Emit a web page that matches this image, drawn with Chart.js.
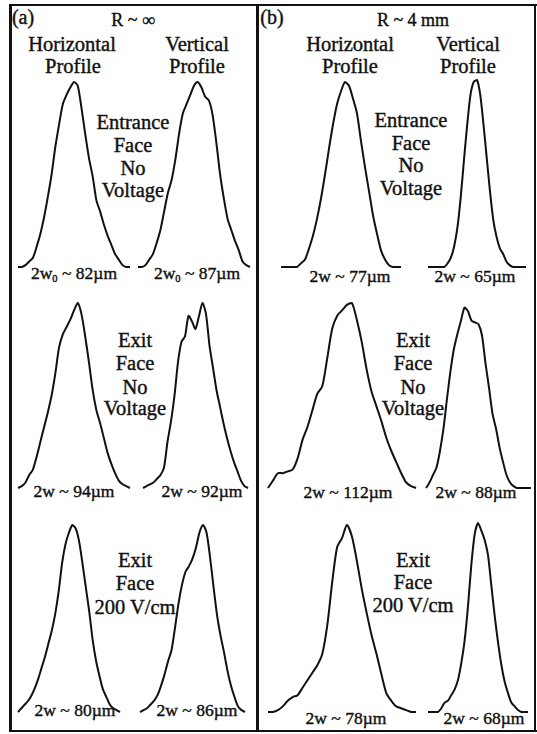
<!DOCTYPE html>
<html>
<head>
<meta charset="utf-8">
<script src="https://cdn.jsdelivr.net/npm/chart.js@4.4.0/dist/chart.umd.min.js"></script>
<style>
  body { margin: 0; background: #fff; }
  #fig { position: relative; width: 537px; height: 734px; overflow: hidden;
         font-family: "Liberation Serif", "Times New Roman", serif; color: #111; }
  .t { position: absolute; white-space: nowrap; transform: translate(-50%, -50%); line-height: 1;
       -webkit-text-stroke: 0.4px #111; }
  .t sub { font-size: 0.6em; vertical-align: -0.25em; }
  .rule { position: absolute; background: #111; }
  canvas { position: absolute; }
</style>
</head>
<body>
<div id="fig"></div>
<script>
// beam profiles, relative intensity (0-100) sampled evenly across each trace
// panel (a) R ~ infinity
const aEntranceH = [0, 0, 1, 3, 5, 11, 18, 27, 38, 50, 65, 77, 88, 93, 97, 100, 98, 86, 72, 59, 49, 36, 30, 23, 17, 12, 7, 4, 1, 0, 0];
const aEntranceV = [0, 0, 1, 4, 7, 13, 20, 30, 40, 47, 58, 72, 83, 88, 93, 98, 100, 97, 92, 90, 82, 67, 50, 37, 26, 20, 14, 9, 3, 1, 0];
const aExitH = [0, 1, 3, 7, 10, 17, 25, 33, 41, 50, 62, 76, 83, 87, 91, 96, 100, 94, 82, 68, 53, 42, 35, 27, 19, 13, 8, 4, 2, 1, 0];
const aExitV = [0, 1, 2, 3, 5, 7, 11, 25, 36, 50, 68, 79, 82, 93, 90, 86, 93, 100, 94, 77, 65, 53, 44, 35, 27, 20, 14, 9, 4, 1, 0];
const aFieldH = [0, 2, 4, 6, 9, 13, 18, 24, 30, 37, 44, 53, 65, 80, 90, 96, 100, 98, 91, 79, 66, 53, 38, 27, 19, 12, 8, 4, 2, 1, 0];
const aFieldV = [0, 1, 2, 4, 6, 9, 14, 20, 27, 33, 45, 58, 68, 75, 78, 82, 88, 96, 100, 96, 83, 67, 52, 41, 32, 22, 14, 8, 3, 1, 0];
// panel (b) R ~ 4 mm
const bEntranceH = [0, 0, 0, 0, 0, 2, 4, 10, 17, 26, 37, 50, 64, 77, 88, 95, 100, 98, 91, 83, 68, 54, 41, 28, 18, 9, 4, 1, 0, 0, 0];
const bEntranceV = [0, 0, 0, 0, 0, 0, 2, 5, 11, 21, 37, 57, 76, 92, 99, 100, 92, 76, 58, 40, 25, 16, 10, 7, 3, 1, 0, 0, 0, 0, 0];
const bExitH = [0, 4, 8, 8, 9, 10, 16, 26, 33, 42, 51, 55, 70, 86, 93, 96, 99, 100, 91, 79, 64, 52, 44, 36, 27, 20, 14, 8, 3, 1, 0];
const bExitV = [0, 3, 7, 11, 20, 32, 48, 63, 75, 83, 90, 97, 95, 90, 89, 88, 82, 67, 54, 40, 32, 22, 14, 7, 3, 1, 0, 0, 0, 0, 0];
const bFieldH = [0, 0, 1, 3, 6, 8, 9, 13, 17, 21, 25, 31, 46, 69, 88, 93, 100, 94, 81, 66, 53, 41, 31, 20, 10, 6, 3, 2, 1, 0, 0];
const bFieldV = [0, 0, 0, 0, 2, 5, 6, 9, 12, 17, 26, 38, 56, 78, 94, 100, 96, 91, 83, 67, 51, 37, 25, 16, 10, 5, 3, 1, 0, 0, 0];

// where each trace sits on the page: [left, top, right, bottom]
const traces = [
  { data: aEntranceH, box: [18, 82, 130, 267] },
  { data: aEntranceV, box: [138, 82, 250, 267] },
  { data: aExitH, box: [18, 303, 130, 488] },
  { data: aExitV, box: [143, 303, 248, 488] },
  { data: aFieldH, box: [18, 525, 120, 712] },
  { data: aFieldV, box: [140, 525, 245, 712] },
  { data: bEntranceH, box: [281, 82, 401, 267] },
  { data: bEntranceV, box: [428, 80, 526, 267] },
  { data: bExitH, box: [268, 303, 416, 488] },
  { data: bExitV, box: [426, 302, 531, 488] },
  { data: bFieldH, box: [268, 525, 416, 712] },
  { data: bFieldV, box: [428, 523, 528, 712] },
];

// text: [html, centre x, centre y, font size]
const HEAD = 20.5, NOTE = 17.5;
const labels = [
  ["(a)", 23, 17, 20], ["R ~ ∞", 133, 20, 18],
  ["Horizontal", 72, 44, HEAD], ["Profile", 73, 66, HEAD],
  ["Vertical", 197, 44, HEAD], ["Profile", 197, 66, HEAD],
  ["Entrance", 133, 122, HEAD], ["Face", 133, 145, HEAD], ["No", 133, 168, HEAD], ["Voltage", 133, 190, HEAD],
  ["2w<sub>0</sub> ~ 82µm", 74, 275, NOTE], ["2w<sub>0</sub> ~ 87µm", 197, 275, NOTE],
  ["Exit", 135, 340, HEAD], ["Face", 135, 363, HEAD], ["No", 135, 387, HEAD], ["Voltage", 135, 408, HEAD],
  ["2w ~ 94µm", 74, 492, NOTE], ["2w ~ 92µm", 202, 492, NOTE],
  ["Exit", 135, 560, HEAD], ["Face", 135, 583, HEAD], ["200 V/cm", 135, 607, HEAD],
  ["2w ~ 80µm", 75, 711, NOTE], ["2w ~ 86µm", 197, 711, NOTE],

  ["(b)", 272, 17, 20], ["R ~ 4 mm", 413, 20, 18],
  ["Horizontal", 350, 44, HEAD], ["Profile", 350, 66, HEAD],
  ["Vertical", 468, 44, HEAD], ["Profile", 468, 66, HEAD],
  ["Entrance", 411, 120, HEAD], ["Face", 411, 143, HEAD], ["No", 411, 165, HEAD], ["Voltage", 411, 188, HEAD],
  ["2w ~ 77µm", 350, 277, NOTE], ["2w ~ 65µm", 475, 277, NOTE],
  ["Exit", 413, 340, HEAD], ["Face", 413, 363, HEAD], ["No", 413, 387, HEAD], ["Voltage", 413, 408, HEAD],
  ["2w ~ 112µm", 348, 493, NOTE], ["2w ~ 88µm", 476, 493, NOTE],
  ["Exit", 413, 560, HEAD], ["Face", 413, 582, HEAD], ["200 V/cm", 413, 605, HEAD],
  ["2w ~ 78µm", 346, 719, NOTE], ["2w ~ 68µm", 484, 719, NOTE],
];

// frame lines: [left, top, width, height]
const rules = [
  [9, 4, 528, 2], [9, 730, 528, 2], [9, 4, 3, 728], [256, 4, 3, 728], [534, 4, 2, 728],
];

const fig = document.getElementById("fig");

rules.forEach(([x, y, w, h]) => {
  const d = document.createElement("div");
  d.className = "rule";
  d.style.cssText = `left:${x}px;top:${y}px;width:${w}px;height:${h}px;`;
  fig.appendChild(d);
});

labels.forEach(([html, x, y, size]) => {
  const d = document.createElement("div");
  d.className = "t";
  d.innerHTML = html;
  d.style.left = x + "px";
  d.style.top = y + "px";
  d.style.fontSize = size + "px";
  fig.appendChild(d);
});

const PAD = 3;
traces.forEach((tr) => {
  const [x0, y0, x1, y1] = tr.box;
  const canvas = document.createElement("canvas");
  canvas.width = x1 - x0 + 2 * PAD;
  canvas.height = y1 - y0 + 2 * PAD;
  canvas.style.left = x0 - PAD + "px";
  canvas.style.top = y0 - PAD + "px";
  fig.appendChild(canvas);

  new Chart(canvas.getContext("2d"), {
    type: "line",
    data: {
      labels: tr.data.map((_, i) => i),
      datasets: [{
        data: tr.data,
        borderColor: "#111",
        borderWidth: 2,
        pointRadius: 0,
        tension: 0.25,
        fill: false,
        clip: false,
      }],
    },
    options: {
      responsive: false,
      animation: false,
      devicePixelRatio: 1,
      layout: { padding: PAD },
      scales: {
        x: { display: false, offset: false },
        y: { display: false, min: 0, max: 100 },
      },
      plugins: { legend: { display: false }, tooltip: { enabled: false } },
    },
  });
});
</script>
</body>
</html>
